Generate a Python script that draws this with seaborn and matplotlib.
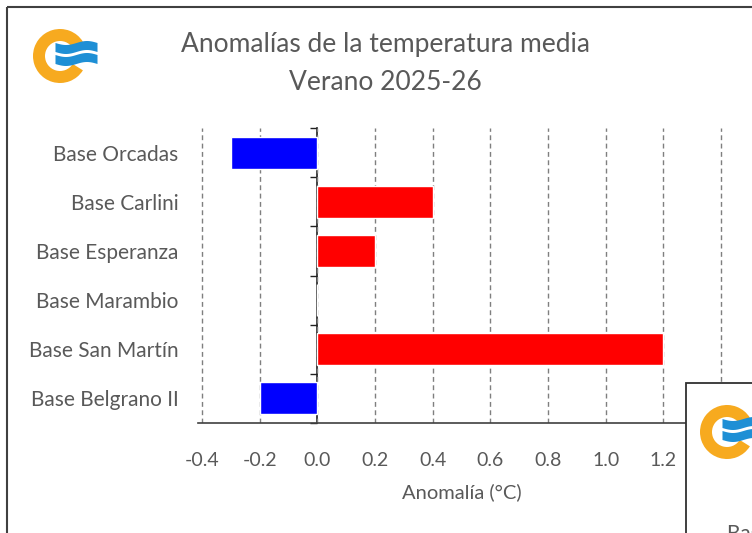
import numpy as np
import pandas as pd
import matplotlib
matplotlib.use("Agg")
import matplotlib.pyplot as plt
import seaborn as sns
from matplotlib.patches import Rectangle, Wedge

# data
stations = ["Base Orcadas", "Base Carlini", "Base Esperanza",
            "Base Marambio", "Base San Martín", "Base Belgrano II"]
anomaly = [-0.3, 0.4, 0.2, 0.0, 1.2, -0.2]
xticks = [-0.4, -0.2, 0.0, 0.2, 0.4, 0.6, 0.8, 1.0, 1.2, 1.4]
title_lines = ["Anomalías de la temperatura media", "Verano 2025-26"]
xlabel = "Anomalía (°C)"

GREY = "#595959"

sns.set_style("white")
plt.rcParams["font.family"] = ["Lato", "DejaVu Sans"]

df = pd.DataFrame({"station": stations, "anomaly": anomaly})
colors = ["#0000FF" if v < 0 else "#FF0000" for v in anomaly]

W, H = 752, 533
fig = plt.figure(figsize=(W / 100, H / 100), dpi=100)
fig.patch.set_facecolor("white")

# main plot area in pixel positions
left, right, top, bottom = 198, 725, 128, 423
ax = fig.add_axes([left / W, 1 - bottom / H, (right - left) / W, (bottom - top) / H])

sns.barplot(data=df, x="anomaly", y="station", hue="station", palette=colors,
            legend=False, width=0.65, orient="h", saturation=1, ax=ax)

ax.set_xlim(-0.414, 1.414)
ax.set_ylim(len(stations) - 0.5, -0.5)
ax.set_xticks(xticks)
ax.set_xticklabels([f"{round(t, 1):.1f}" for t in xticks])
ax.grid(axis="x", color="#7f7f7f", linestyle=(0, (3.5, 2.5)), linewidth=1.0)
ax.set_axisbelow(True)

for s in ["top", "right", "left"]:
    ax.spines[s].set_visible(False)
ax.spines["bottom"].set_color("#404040")
ax.spines["bottom"].set_linewidth(1.2)

ax.tick_params(axis="x", length=0, pad=21, labelsize=14, labelcolor=GREY)
ax.tick_params(axis="y", length=0, pad=14, labelsize=15, labelcolor=GREY)
ax.set_ylabel("")
ax.set_xlabel(xlabel, fontsize=14.5, color=GREY, labelpad=10)

# category axis drawn at zero with ticks between the bars
xmin, xmax = ax.get_xlim()
sec = ax.secondary_yaxis((0 - xmin) / (xmax - xmin))
sec.set_yticks(np.arange(-0.5, len(stations), 1))
sec.set_yticklabels([])
sec.tick_params(axis="y", length=5, width=1, color="#202020")
sec.spines["left"].set_color("#202020")
sec.spines["left"].set_linewidth(1.2)

# title
fig.text(385 / W, 1 - 45 / H, title_lines[0], ha="center", va="center",
         fontsize=19, color=GREY)
fig.text(385 / W, 1 - 82 / H, title_lines[1], ha="center", va="center",
         fontsize=19, color=GREY)

# decorations: frame, logo, overlapping second panel
deco = fig.add_axes([0, 0, 1, 1], zorder=5)
deco.set_xlim(0, W)
deco.set_ylim(H, 0)
deco.axis("off")
deco.patch.set_alpha(0)

deco.add_patch(Rectangle((7, 7), 800, 600, fill=False, edgecolor="#404040", linewidth=1.5))


def logo(cx, cy):
    deco.add_patch(Wedge((cx, cy), 27, 32, 328, width=12, facecolor="#F7AA1F", edgecolor="none"))
    xs = np.linspace(cx - 5, cx + 37, 60)
    for off in (-9, 3):
        yc = cy + off + 2.0 * np.sin((xs - xs[0]) / 42 * 2 * np.pi)
        deco.fill_between(xs, yc - 4.5, yc + 4.5, color="#1E8FD5", linewidth=0)


logo(60, 56)

deco.add_patch(Rectangle((686, 383), 200, 200, facecolor="white", edgecolor="#303030", linewidth=1.3))
logo(727, 432)
deco.text(727, 534, "Base Orcadas", fontsize=15, color=GREY, ha="left", va="center")

fig.savefig("out.png", dpi=100)
